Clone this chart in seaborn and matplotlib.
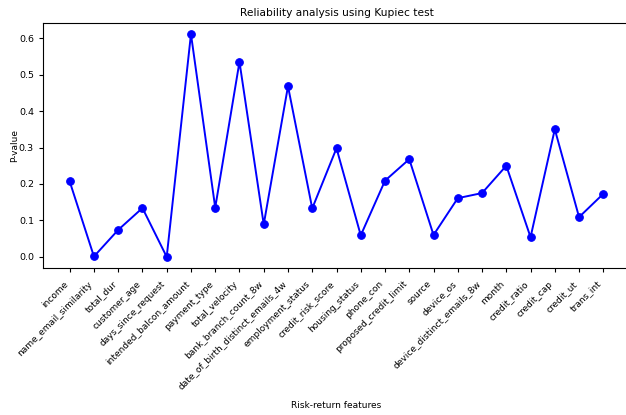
import matplotlib
matplotlib.use("Agg")
import matplotlib.pyplot as plt
import seaborn as sns
import pandas as pd

features = ["income", "name_email_similarity", "total_dur", "customer_age",
            "days_since_request", "intended_balcon_amount", "payment_type",
            "total_velocity", "bank_branch_count_8w", "date_of_birth_distinct_emails_4w",
            "employment_status", "credit_risk_score", "housing_status", "phone_con",
            "proposed_credit_limit", "source", "device_os", "device_distinct_emails_8w",
            "month", "credit_ratio", "credit_cap", "credit_ut", "trans_int"]
p_values = [0.207, 0.001, 0.074, 0.134, 0.0, 0.611, 0.135, 0.535, 0.089, 0.468,
            0.133, 0.298, 0.059, 0.209, 0.268, 0.060, 0.161, 0.175, 0.250, 0.054,
            0.350, 0.109, 0.173]

df = pd.DataFrame({"feature": features, "pvalue": p_values})

fig = plt.figure(figsize=(6.26, 4.15), dpi=100)
ax = fig.add_axes([43/626, 1 - 268/415, (630 - 43)/626, (268 - 23)/415])
sns.lineplot(data=df, x="feature", y="pvalue", sort=False, marker="o",
             color="blue", linewidth=1.4, markersize=5.5, markeredgecolor="blue", ax=ax)
ax.set_title("Reliability analysis using Kupiec test", fontsize=7.7, pad=5)
ax.set_xlabel("Risk-return features", fontsize=6.5, labelpad=7)
ax.set_ylabel("P-value", fontsize=6.5, labelpad=0)
ax.tick_params(axis="x", labelsize=6.5, length=3, pad=5)
ax.tick_params(axis="y", labelsize=6.8, length=3)
plt.setp(ax.get_xticklabels(), rotation=45, ha="right")
ax.set_yticks([0.0, 0.1, 0.2, 0.3, 0.4, 0.5, 0.6])
fig.savefig("out.png", dpi=100)
